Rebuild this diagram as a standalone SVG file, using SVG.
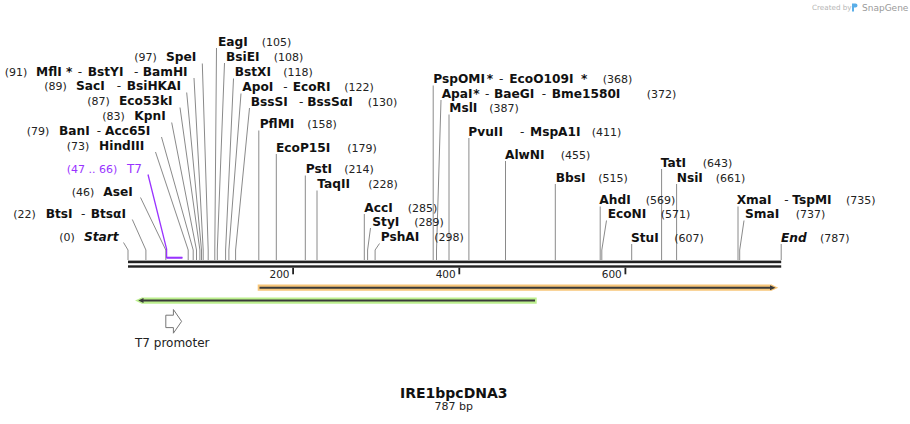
<svg xmlns="http://www.w3.org/2000/svg" width="910" height="424" viewBox="0 0 910 424">
<style>
text{font-family:"DejaVu Sans","Noto Sans",sans-serif}
.n{font-weight:bold;font-size:12.2px;fill:#111}
.i{font-weight:bold;font-style:italic;font-size:12.2px;fill:#111}
.p{font-size:11px;fill:#222}
.d{font-size:12px;fill:#222}
.pu{fill:#9933ff}
.s{fill:none;stroke:#8a8a8a;stroke-width:1}
.tk{fill:#222}
.ax{font-size:10.5px;fill:#222}
</style>
<rect width="910" height="424" fill="#fff"/>
<g id="credit">
<text x="812" y="10" style="font-size:7.2px;fill:#b5b5b5">Created by</text>
<path d="M852 3.5h3.5a2 2 0 0 1 0 4h-1.5v4h-2z" fill="#5aaee8"/>
<text x="862" y="11" style="font-size:9px;fill:#9a9a9a">SnapGene</text>
</g>
<g id="connectors">
<path class="s" d="M123.5 242.5L128 250V260"/>
<path class="s" d="M132.3 219.5L145.9 250V260"/>
<path class="s" d="M140.5 197.5L165.8 250V260"/>
<path class="s" d="M155.5 152L188.2 250V260"/>
<path class="s" d="M161.5 137L193.2 250V260"/>
<path class="s" d="M171.7 122.5L196.5 250V260"/>
<path class="s" d="M180 107.5L199.9 250V260"/>
<path class="s" d="M186.7 92.5L201.5 250V260"/>
<path class="s" d="M194 78L203.2 250V260"/>
<path class="s" d="M202.3 63.5L208.2 250V260"/>
<path class="s" d="M216.5 48L214.8 250V260"/>
<path class="s" d="M224.5 63L217.3 250V260"/>
<path class="s" d="M233.5 78.5L225.6 250V260"/>
<path class="s" d="M241 93.5L228.9 250V260"/>
<path class="s" d="M249.5 108L235.6 250V260"/>
<path class="s" d="M258.8 130.5V260"/>
<path class="s" d="M276.3 154V260"/>
<path class="s" d="M305.3 175.5V260"/>
<path class="s" d="M317 190.5V260"/>
<path class="s" d="M364.3 214V260"/>
<path class="s" d="M370.5 228L367.6 250V260"/>
<path class="s" d="M379.5 243.5L375.1 250V260"/>
<path class="s" d="M433.2 85.5V260"/>
<path class="s" d="M441 100L436.5 250V260"/>
<path class="s" d="M449 114.5V260"/>
<path class="s" d="M468.9 138V260"/>
<path class="s" d="M505.5 161V260"/>
<path class="s" d="M555.3 184V260"/>
<path class="s" d="M600.2 206.5V260"/>
<path class="s" d="M606.5 220.5L601.8 250V260"/>
<path class="s" d="M631.7 244V260"/>
<path class="s" d="M661.6 169V260"/>
<path class="s" d="M676.6 184V260"/>
<path class="s" d="M738 206.5V260"/>
<path class="s" d="M744 220.5L739.7 250V260"/>
<path class="s" d="M781.2 244V260"/>
<path d="M148 174.5L166.6 249V257.7H182.4" fill="none" stroke="#9933ff" stroke-width="1.3"/>
<path d="M166.6 257.7H182.4" fill="none" stroke="#9933ff" stroke-width="2"/>
</g>
<g id="sequence">
<rect x="128" y="260.6" width="653.2" height="2.6" fill="#222"/>
<rect x="128" y="265.3" width="653.2" height="2.4" fill="#222"/>
<rect class="tk" x="292.2" y="267.7" width="1.8" height="6.6"/>
<rect class="tk" x="458.4" y="267.7" width="1.8" height="6.6"/>
<rect class="tk" x="624.5" y="267.7" width="1.8" height="6.6"/>
<text class="ax" x="289.5" y="278" text-anchor="end">200</text>
<text class="ax" x="455.7" y="278" text-anchor="end">400</text>
<text class="ax" x="621.8" y="278" text-anchor="end">600</text>
</g>
<g id="feature-orange">
<path d="M257.7 284.6H771V284.3L778.3 287.7L771 291.1V290.8H257.7Z" fill="#f7c67a"/>
<path d="M259.5 287.7H771" stroke="#3a3a3a" stroke-width="2"/>
<path d="M770 285.2L775.5 287.7L770 290.2Z" fill="#3a3a3a"/>
</g>
<g id="feature-green">
<path d="M536.7 297.5H142.3V297.2L135 300.6L142.3 304V303.7H536.7Z" fill="#bcef8e"/>
<path d="M535 300.6H142.5" stroke="#3a3a3a" stroke-width="2"/>
<path d="M143.5 298.1L138.3 300.6L143.5 303.1Z" fill="#3a3a3a"/>
</g>
<g id="t7-promoter">
<path d="M165.8 315.2H173.4V309.5L181.6 321.4L173.4 333.2V327.6H165.8Z" fill="#fff" stroke="#777" stroke-width="1"/>
<text x="135" y="346.5" style="font-size:12px;fill:#222">T7 promoter</text>
</g>
<g id="title">
<text x="453.8" y="398" text-anchor="middle" style="font-size:14px;font-weight:bold;fill:#111">IRE1bpcDNA3</text>
<text x="453.8" y="409.5" text-anchor="middle" style="font-size:11px;fill:#222">787 bp</text>
</g>
<g id="lbl-start"><text y="241"><tspan class="p" x="59.3">(0)</tspan><tspan class="i" x="84">Start</tspan></text></g>
<g id="lbl-22"><text y="218"><tspan class="p" x="13.3">(22)</tspan><tspan class="n" x="45.7">BtsI</tspan><tspan class="d" x="81">-</tspan><tspan class="n" x="90.7">BtsαI</tspan></text></g>
<g id="lbl-46"><text y="196"><tspan class="p" x="71.7">(46)</tspan><tspan class="n" x="103.3">AseI</tspan></text></g>
<g id="lbl-t7"><text y="173"><tspan class="p pu" x="66.7">(47 .. 66)</tspan><tspan class="d pu" x="127">T7</tspan></text></g>
<g id="lbl-73"><text y="150"><tspan class="p" x="66.7">(73)</tspan><tspan class="n" x="99">HindIII</tspan></text></g>
<g id="lbl-79"><text y="134.5"><tspan class="p" x="26.7">(79)</tspan><tspan class="n" x="59">BanI</tspan><tspan class="d" x="96.7">-</tspan><tspan class="n" x="105">Acc65I</tspan></text></g>
<g id="lbl-83"><text y="120"><tspan class="p" x="102.3">(83)</tspan><tspan class="n" x="134.3">KpnI</tspan></text></g>
<g id="lbl-87"><text y="105"><tspan class="p" x="87.3">(87)</tspan><tspan class="n" x="119">Eco53kI</tspan></text></g>
<g id="lbl-89"><text y="90"><tspan class="p" x="44.3">(89)</tspan><tspan class="n" x="76">SacI</tspan><tspan class="d" x="116.7">-</tspan><tspan class="n" x="126.7">BsiHKAI</tspan></text></g>
<g id="lbl-91"><text y="75.7"><tspan class="p" x="4.7">(91)</tspan><tspan class="n" x="36">MflI</tspan><tspan class="n" x="66">*</tspan><tspan class="d" x="77.7">-</tspan><tspan class="n" x="87.7">BstYI</tspan><tspan class="d" x="134">-</tspan><tspan class="n" x="142.7">BamHI</tspan></text></g>
<g id="lbl-97"><text y="61"><tspan class="p" x="134.3">(97)</tspan><tspan class="n" x="166">SpeI</tspan></text></g>
<g id="lbl-105"><text y="45.5"><tspan class="n" x="218">EagI</tspan><tspan class="p" x="261.7">(105)</tspan></text></g>
<g id="lbl-108"><text y="60.5"><tspan class="n" x="226">BsiEI</tspan><tspan class="p" x="273.7">(108)</tspan></text></g>
<g id="lbl-118"><text y="76"><tspan class="n" x="234.7">BstXI</tspan><tspan class="p" x="283.3">(118)</tspan></text></g>
<g id="lbl-122"><text y="91"><tspan class="n" x="242.3">ApoI</tspan><tspan class="d" x="283.3">-</tspan><tspan class="n" x="292.7">EcoRI</tspan><tspan class="p" x="344.3">(122)</tspan></text></g>
<g id="lbl-130"><text y="105.5"><tspan class="n" x="250.7">BssSI</tspan><tspan class="d" x="299">-</tspan><tspan class="n" x="307.3">BssSαI</tspan><tspan class="p" x="367.7">(130)</tspan></text></g>
<g id="lbl-158"><text y="128"><tspan class="n" x="259.7">PflMI</tspan><tspan class="p" x="307.3">(158)</tspan></text></g>
<g id="lbl-179"><text y="151.5"><tspan class="n" x="276">EcoP15I</tspan><tspan class="p" x="347.3">(179)</tspan></text></g>
<g id="lbl-214"><text y="173"><tspan class="n" x="305.7">PstI</tspan><tspan class="p" x="344.3">(214)</tspan></text></g>
<g id="lbl-228"><text y="188"><tspan class="n" x="317.3">TaqII</tspan><tspan class="p" x="368.3">(228)</tspan></text></g>
<g id="lbl-285"><text y="211.5"><tspan class="n" x="364.3">AccI</tspan><tspan class="p" x="407.7">(285)</tspan></text></g>
<g id="lbl-289"><text y="225.5"><tspan class="n" x="372.3">StyI</tspan><tspan class="p" x="414.3">(289)</tspan></text></g>
<g id="lbl-298"><text y="241"><tspan class="n" x="380.7">PshAI</tspan><tspan class="p" x="434.3">(298)</tspan></text></g>
<g id="lbl-368"><text y="83"><tspan class="n" x="433.3">PspOMI</tspan><tspan class="n" x="486.7">*</tspan><tspan class="d" x="499">-</tspan><tspan class="n" x="509.3">EcoO109I</tspan><tspan class="n" x="581">*</tspan><tspan class="p" x="602.7">(368)</tspan></text></g>
<g id="lbl-372"><text y="97.5"><tspan class="n" x="441.7">ApaI</tspan><tspan class="n" x="473.3">*</tspan><tspan class="d" x="485">-</tspan><tspan class="n" x="494">BaeGI</tspan><tspan class="d" x="541.7">-</tspan><tspan class="n" x="551.7">Bme1580I</tspan><tspan class="p" x="646.7">(372)</tspan></text></g>
<g id="lbl-387"><text y="112"><tspan class="n" x="449.3">MslI</tspan><tspan class="p" x="489.3">(387)</tspan></text></g>
<g id="lbl-411"><text y="135.5"><tspan class="n" x="468.3">PvuII</tspan><tspan class="d" x="520">-</tspan><tspan class="n" x="530">MspA1I</tspan><tspan class="p" x="591.7">(411)</tspan></text></g>
<g id="lbl-455"><text y="158.5"><tspan class="n" x="505">AlwNI</tspan><tspan class="p" x="560.7">(455)</tspan></text></g>
<g id="lbl-515"><text y="181.5"><tspan class="n" x="555.7">BbsI</tspan><tspan class="p" x="598.3">(515)</tspan></text></g>
<g id="lbl-643"><text y="166.5"><tspan class="n" x="660.7">TatI</tspan><tspan class="p" x="702.7">(643)</tspan></text></g>
<g id="lbl-661"><text y="181.5"><tspan class="n" x="676.7">NsiI</tspan><tspan class="p" x="715.7">(661)</tspan></text></g>
<g id="lbl-569"><text y="204"><tspan class="n" x="599.3">AhdI</tspan><tspan class="p" x="645.7">(569)</tspan></text></g>
<g id="lbl-571"><text y="218"><tspan class="n" x="607.7">EcoNI</tspan><tspan class="p" x="660.7">(571)</tspan></text></g>
<g id="lbl-607"><text y="241.5"><tspan class="n" x="631">StuI</tspan><tspan class="p" x="674.3">(607)</tspan></text></g>
<g id="lbl-735"><text y="204"><tspan class="n" x="736.7">XmaI</tspan><tspan class="d" x="784.3">-</tspan><tspan class="n" x="792.3">TspMI</tspan><tspan class="p" x="846">(735)</tspan></text></g>
<g id="lbl-737"><text y="218"><tspan class="n" x="745">SmaI</tspan><tspan class="p" x="795.7">(737)</tspan></text></g>
<g id="lbl-end"><text y="241.5"><tspan class="i" x="781">End</tspan><tspan class="p" x="820">(787)</tspan></text></g>
</svg>
